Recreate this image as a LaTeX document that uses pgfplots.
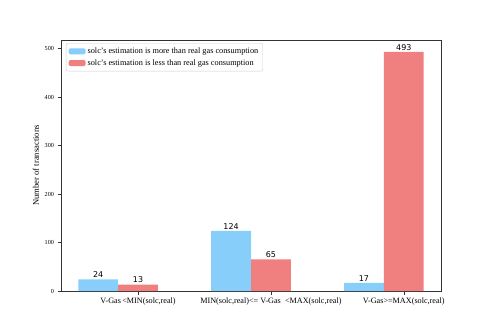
\documentclass[border=0pt]{standalone}
\usepackage{fontspec}
\setmainfont{Liberation Serif}
\newfontfamily\dejavu{DejaVu Sans}
\usepackage{pgfplots}
\pgfplotsset{compat=1.18}
\definecolor{cblue}{HTML}{87CEFA}
\definecolor{cred}{HTML}{F08080}
\begin{document}
\begin{tikzpicture}[x=1bp,y=1bp]
\path[use as bounding box] (0,0) rectangle (490,327);
\begin{axis}[
  at={(61bp,36bp)}, anchor=south west,
  scale only axis, width=380bp, height=251bp,
  xmin=-0.28, xmax=2.58, ymin=0, ymax=517.65,
  xtick={0.3,1.3,2.3},
  xticklabels={{V-Gas\,<MIN(solc,real)},{MIN(solc,real)<= V-Gas\ \ <MAX(solc,real)},{V-Gas>=MAX(solc,real)}},
  ytick={0,100,200,300,400,500},
  tick align=outside, major tick length=3.5bp,
  tick style={black!80, line width=0.6bp},
  axis line style={black!80, line width=0.6bp},
  xtick pos=bottom, ytick pos=left,
  /pgf/number format/assume math mode=true,
  xticklabel style={font=\fontsize{8.2}{9}\selectfont},
  yticklabel style={font=\fontsize{6.2}{7}\selectfont},
  ylabel={Number of transactions},
  ylabel style={font=\fontsize{8.6}{9}\selectfont, yshift=-1bp},
  ybar, bar width=0.3, bar shift=0pt,
  nodes near coords,
  nodes near coords style={font=\dejavu\fontsize{8}{9}\selectfont, black, inner sep=1.5bp},
  legend cell align=left,
  legend style={at={(0.013,0.988)}, anchor=north west, draw=black!20, rounded corners=2bp,
    font=\fontsize{8.3}{9}\selectfont, row sep=0.5bp, inner sep=2.5bp},
  legend image code/.code={\fill[#1] (0bp,-3bp) rectangle (17bp,3bp);},
]
\addplot[fill=cblue, draw=none] coordinates {(0,24) (1,124) (2,17)};
\addplot[fill=cred, draw=none] coordinates {(0.3,13) (1.3,65) (2.3,493)};
\legend{solc's estimation is more than real gas consumption, solc's estimation is less than real gas consumption}
\end{axis}
\end{tikzpicture}
\end{document}
